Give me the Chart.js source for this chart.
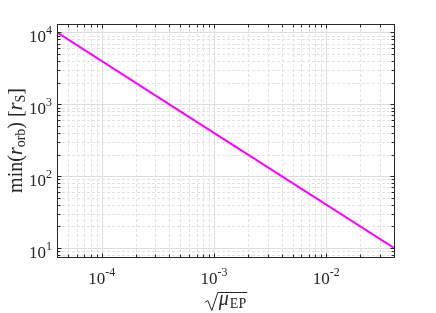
<!DOCTYPE html>
<html lang="en">
<head>
<meta charset="UTF-8">
<title>min(r_orb) vs sqrt(mu_EP)</title>
<script src="https://cdn.jsdelivr.net/npm/chart.js@4.4.0/dist/chart.umd.min.js"></script>
<style>
  html, body { margin: 0; padding: 0; background: #fff; }
  #wrap { width: 436px; height: 313px; }
</style>
</head>
<body>
<div id="wrap"><canvas id="grafico" width="436" height="313"></canvas></div>
<script>
// valores (log-log, reta)
const sqrtMu = [4e-5, 4e-4, 4e-3, 4e-2];
const minROrb = [1e4, 1e3, 1e2, 1e1];
const xTickExp = [-4, -3, -2];
const yTickExp = [1, 2, 3, 4];
const xRange = [4e-5, 4e-2];
const yRange = [7.5, 13100];

const corEixo = '#262626';
const serif = '"Liberation Serif", "Times New Roman", serif';

// posições 1..9 x 10^n dentro do intervalo
function logMarks(min, max) {
  const out = [];
  for (let e = Math.floor(Math.log10(min)); e <= Math.ceil(Math.log10(max)); e++) {
    for (let m = 1; m <= 9; m++) {
      const v = m * Math.pow(10, e);
      if (v >= min * 0.9999 && v <= max * 1.0001) out.push({ v: v, major: m === 1 });
    }
  }
  return out;
}

function fontOf(p) {
  return (p.italic ? 'italic ' : '') + p.size + 'px ' + serif;
}

// texto com sub/sobrescrito
function drawRich(ctx, parts, x, y, align) {
  let w = 0;
  parts.forEach(p => { ctx.font = fontOf(p); p.w = ctx.measureText(p.t).width + (p.gap || 0); w += p.w; });
  let cx = align === 'center' ? x - w / 2 : (align === 'right' ? x - w : x);
  parts.forEach(p => {
    ctx.font = fontOf(p);
    ctx.fillText(p.t, cx + (p.gap || 0), y + (p.dy || 0));
    cx += p.w;
  });
  return w;
}

const molduraPlugin = {
  id: 'moldura',
  beforeDatasetsDraw(chart) {
    const ctx = chart.ctx, a = chart.chartArea;
    const xs = chart.scales.x, ys = chart.scales.y;
    ctx.save();
    ctx.lineWidth = 1;
    // grade menor (tracejada)
    ctx.strokeStyle = 'rgb(226,226,226)';
    ctx.setLineDash([3, 2]);
    logMarks(xRange[0], xRange[1]).filter(m => !m.major).forEach(m => {
      const px = Math.round(xs.getPixelForValue(m.v)) + 0.5;
      ctx.beginPath(); ctx.moveTo(px, a.top); ctx.lineTo(px, a.bottom); ctx.stroke();
    });
    logMarks(yRange[0], yRange[1]).filter(m => !m.major).forEach(m => {
      const py = Math.round(ys.getPixelForValue(m.v)) + 0.5;
      ctx.beginPath(); ctx.moveTo(a.left, py); ctx.lineTo(a.right, py); ctx.stroke();
    });
    // grade maior
    ctx.setLineDash([]);
    ctx.strokeStyle = 'rgb(222,222,222)';
    logMarks(xRange[0], xRange[1]).filter(m => m.major).forEach(m => {
      const px = Math.round(xs.getPixelForValue(m.v)) + 0.5;
      ctx.beginPath(); ctx.moveTo(px, a.top); ctx.lineTo(px, a.bottom); ctx.stroke();
    });
    logMarks(yRange[0], yRange[1]).filter(m => m.major).forEach(m => {
      const py = Math.round(ys.getPixelForValue(m.v)) + 0.5;
      ctx.beginPath(); ctx.moveTo(a.left, py); ctx.lineTo(a.right, py); ctx.stroke();
    });
    ctx.restore();
  },
  afterDatasetsDraw(chart) {
    const ctx = chart.ctx, a = chart.chartArea;
    const xs = chart.scales.x, ys = chart.scales.y;
    const L = Math.round(a.left) + 0.5, R = Math.round(a.right) + 0.5;
    const T = Math.round(a.top) + 0.5, B = Math.round(a.bottom) + 0.5;
    ctx.save();
    ctx.strokeStyle = corEixo;
    ctx.lineWidth = 1;
    ctx.strokeRect(L, T, R - L, B - T);

    // marcas para dentro, nos quatro lados
    logMarks(xRange[0], xRange[1]).forEach(m => {
      const px = Math.round(xs.getPixelForValue(m.v)) + 0.5;
      const len = m.major ? 4 : 3;
      ctx.beginPath();
      ctx.moveTo(px, B); ctx.lineTo(px, B - len);
      ctx.moveTo(px, T); ctx.lineTo(px, T + len);
      ctx.stroke();
    });
    logMarks(yRange[0], yRange[1]).forEach(m => {
      const py = Math.round(ys.getPixelForValue(m.v)) + 0.5;
      const len = m.major ? 4 : 3;
      ctx.beginPath();
      ctx.moveTo(L, py); ctx.lineTo(L + len, py);
      ctx.moveTo(R, py); ctx.lineTo(R - len, py);
      ctx.stroke();
    });

    // rótulos dos eixos
    ctx.fillStyle = corEixo;
    ctx.textBaseline = 'alphabetic';
    xTickExp.forEach(e => {
      const px = xs.getPixelForValue(Math.pow(10, e));
      drawRich(ctx, [
        { t: '10', size: 17 },
        { t: '-' + Math.abs(e), size: 12, dy: -8 }
      ], px, 284, 'center');
    });
    yTickExp.forEach(e => {
      const py = ys.getPixelForValue(Math.pow(10, e));
      drawRich(ctx, [
        { t: '10', size: 17 },
        { t: String(e), size: 12, dy: -8 }
      ], a.left - 5, py + 10, 'right');
    });

    // título x: sqrt(mu_EP)
    const xParts = [
      { t: 'μ', size: 20, italic: true },
      { t: 'EP', size: 14, dy: 3, gap: 1 }
    ];
    ctx.font = fontOf(xParts[0]);
    let inner = ctx.measureText('μ').width;
    ctx.font = fontOf(xParts[1]);
    inner += ctx.measureText('EP').width + 1;
    const radW = 13;
    const total = radW + 1 + inner;
    const x0 = (a.left + a.right) / 2 - total / 2;
    const yTop = 292.5;
    ctx.lineWidth = 1;
    ctx.beginPath();
    ctx.moveTo(x0, yTop + 10);
    ctx.lineTo(x0 + 3, yTop + 8);
    ctx.lineTo(x0 + 7, yTop + 18);
    ctx.lineTo(x0 + radW, yTop);
    ctx.lineTo(x0 + total + 1, yTop);
    ctx.stroke();
    drawRich(ctx, xParts, x0 + radW + 1, 305, 'left');

    // título y: min(r_orb) [r_S]
    ctx.translate(22, (a.top + a.bottom) / 2);
    ctx.rotate(-Math.PI / 2);
    drawRich(ctx, [
      { t: 'min(', size: 20 },
      { t: 'r', size: 20, italic: true },
      { t: 'orb', size: 14, dy: 3 },
      { t: ') [', size: 20 },
      { t: 'r', size: 20, italic: true },
      { t: 'S', size: 14, dy: 3 },
      { t: ']', size: 20 }
    ], 0, 0, 'center');
    ctx.restore();
  }
};

const ctx = document.getElementById('grafico').getContext('2d');
const grafico = new Chart(ctx, {
  type: 'line',
  data: {
    datasets: [{
      data: sqrtMu.map((x, i) => ({ x: x, y: minROrb[i] })),
      borderColor: '#ff00ff',
      borderWidth: 2,
      pointRadius: 0,
      tension: 0,
      fill: false
    }]
  },
  options: {
    responsive: false,
    animation: false,
    devicePixelRatio: 1,
    layout: { padding: { left: 57, right: 42, top: 24, bottom: 56 } },
    plugins: { legend: { display: false }, tooltip: { enabled: false } },
    scales: {
      x: { type: 'logarithmic', min: xRange[0], max: xRange[1], display: false },
      y: { type: 'logarithmic', min: yRange[0], max: yRange[1], display: false }
    }
  },
  plugins: [molduraPlugin]
});
</script>
</body>
</html>
